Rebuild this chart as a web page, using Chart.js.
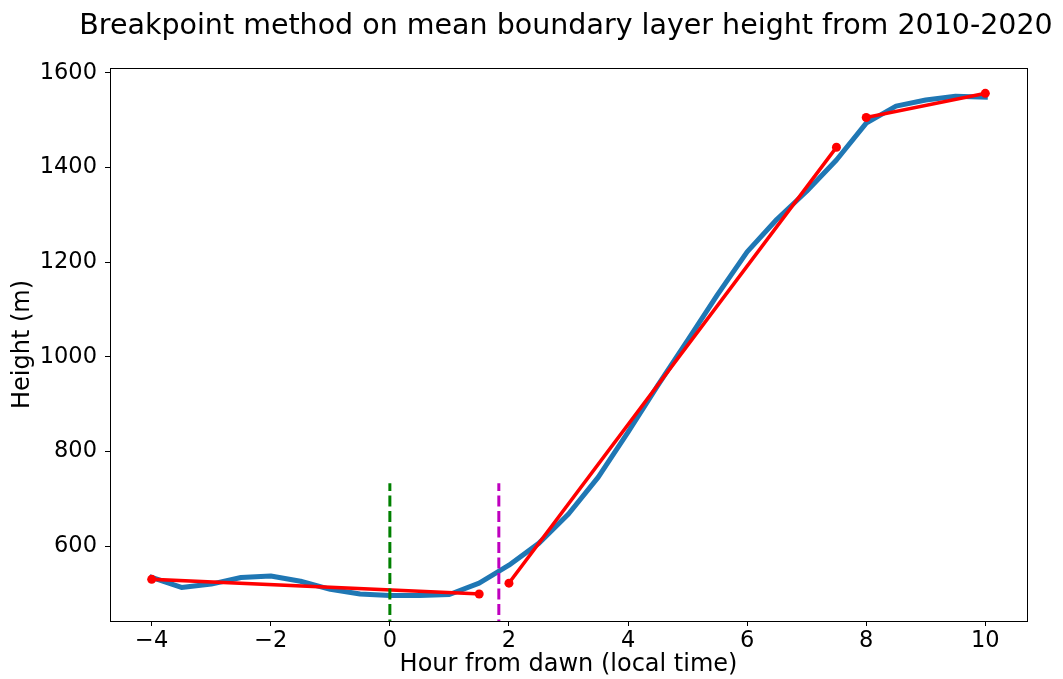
<!DOCTYPE html>
<html>
<head>
<meta charset="utf-8">
<script src="https://cdn.jsdelivr.net/npm/chart.js@4.4.1/dist/chart.umd.min.js"></script>
<style>
  html, body { margin: 0; padding: 0; background: #ffffff; }
  #wrap { width: 1063px; height: 679px; }
</style>
</head>
<body>
<div id="wrap"><canvas id="c" width="1063" height="679"></canvas></div>
<script>
// Mean boundary layer height (m), every half hour relative to dawn
const hours = [-4, -3.5, -3, -2.5, -2, -1.5, -1, -0.5, 0, 0.5, 1, 1.5, 2, 2.5, 3, 3.5,
               4, 4.5, 5, 5.5, 6, 6.5, 7, 7.5, 8, 8.5, 9, 9.5, 10];
const meanHeight = [534, 513, 520, 534, 537, 526, 509, 499, 496, 496, 498, 522, 560, 606,
                    668, 746, 841, 940, 1035, 1131, 1222, 1291, 1350, 1416, 1494, 1530,
                    1543, 1551, 1549];

// Piecewise linear fit: one segment per regime
const fitStartHours   = [-4, 2, 8];
const fitStartHeights = [530, 522, 1506];
const fitEndHours     = [1.5, 7.5, 10];
const fitEndHeights   = [499, 1443, 1557];

// Dawn marker and detected breakpoint
const dawnHour = 0;
const breakHour = 1.83;
const markerTop = 733;

const xTicks = [-4, -2, 0, 2, 4, 6, 8, 10];
const yTicks = [600, 800, 1000, 1200, 1400, 1600];

const titleText = 'Breakpoint method on mean boundary layer height from 2010-2020';
const FONT = '"DejaVu Sans", "Liberation Sans", sans-serif';

const X_MIN = -4.7, X_MAX = 10.7;
const Y_MIN = 442, Y_MAX = 1610.5;

const datasets = [];

datasets.push({
  label: 'mean',
  data: hours.map((h, i) => ({ x: h, y: meanHeight[i] })),
  borderColor: '#1f77b4',
  borderWidth: 5,
  borderCapStyle: 'square',
  borderJoinStyle: 'round',
  pointRadius: 0,
  tension: 0,
  order: 3
});

fitStartHours.forEach((h, i) => {
  datasets.push({
    label: 'fit ' + (i + 1),
    data: [{ x: h, y: fitStartHeights[i] }, { x: fitEndHours[i], y: fitEndHeights[i] }],
    borderColor: '#ff0000',
    backgroundColor: '#ff0000',
    borderWidth: 3.5,
    borderCapStyle: 'square',
    pointRadius: 4.5,
    pointBorderWidth: 0,
    pointHoverRadius: 4.5,
    order: 2
  });
});

[[dawnHour, '#008000'], [breakHour, '#bf00bf']].forEach(([h, col]) => {
  datasets.push({
    label: 'marker',
    data: [{ x: h, y: Y_MIN - 20 }, { x: h, y: markerTop }],
    borderColor: col,
    borderWidth: 3,
    borderDash: [11, 4.5],
    borderCapStyle: 'butt',
    pointRadius: 0,
    order: 1
  });
});

const minus = v => String(v).replace('-', '\u2212');

const frameAndTitle = {
  id: 'frameAndTitle',
  afterDatasetsDraw(chart) {
    const { ctx, chartArea: a } = chart;
    ctx.save();
    ctx.strokeStyle = '#000000';
    ctx.lineWidth = 1;
    ctx.strokeRect(Math.round(a.left) + 0.5, Math.round(a.top) + 0.5,
                   Math.round(a.right - a.left), Math.round(a.bottom - a.top));
    ctx.restore();
  },
  afterDraw(chart) {
    const ctx = chart.ctx;
    ctx.save();
    ctx.fillStyle = '#000000';
    ctx.font = '28.5px ' + FONT;
    ctx.textAlign = 'center';
    ctx.textBaseline = 'alphabetic';
    ctx.fillText(titleText, 566, 34);
    ctx.restore();
  }
};

new Chart(document.getElementById('c'), {
  type: 'line',
  data: { datasets },
  plugins: [frameAndTitle],
  options: {
    responsive: false,
    devicePixelRatio: 1,
    animation: false,
    events: [],
    clip: true,
    layout: { padding: { top: 68, right: 36, left: 0, bottom: 0 } },
    plugins: { legend: { display: false }, tooltip: { enabled: false }, title: { display: false } },
    scales: {
      x: {
        type: 'linear',
        min: X_MIN,
        max: X_MAX,
        afterBuildTicks: s => { s.ticks = xTicks.map(v => ({ value: v })); },
        afterFit: s => { s.height = 58; },
        grid: { drawOnChartArea: false, drawTicks: true, tickLength: 5, tickColor: '#000', tickWidth: 1 },
        border: { display: false },
        ticks: {
          color: '#000',
          font: { family: FONT, size: 22.5 },
          padding: 2,
          maxRotation: 0,
          autoSkip: false,
          callback: v => minus(v)
        },
        title: {
          display: true,
          text: 'Hour from dawn (local time)',
          color: '#000',
          font: { family: FONT, size: 24 },
          padding: { top: 0, bottom: 0 }
        }
      },
      y: {
        type: 'linear',
        min: Y_MIN,
        max: Y_MAX,
        afterBuildTicks: s => { s.ticks = yTicks.map(v => ({ value: v })); },
        afterFit: s => { s.width = 110; },
        grid: { drawOnChartArea: false, drawTicks: true, tickLength: 5, tickColor: '#000', tickWidth: 1 },
        border: { display: false },
        ticks: {
          color: '#000',
          font: { family: FONT, size: 22.5 },
          padding: 8,
          autoSkip: false,
          callback: v => minus(v)
        },
        title: {
          display: true,
          text: 'Height (m)',
          color: '#000',
          font: { family: FONT, size: 24 },
          padding: { top: 8, bottom: 0 }
        }
      }
    }
  }
});
</script>
</body>
</html>
